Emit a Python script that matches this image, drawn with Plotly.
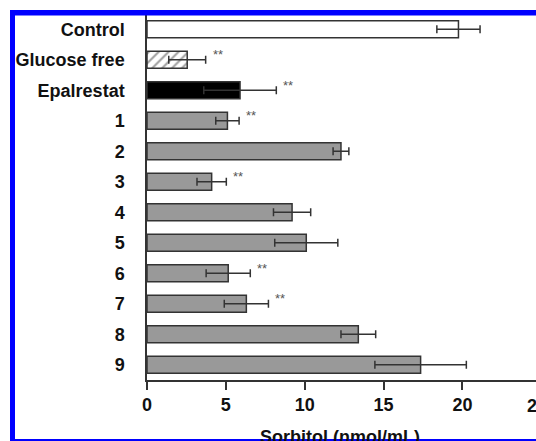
import plotly.graph_objects as go

categories = ["Control", "Glucose free", "Epalrestat", "1", "2", "3", "4", "5", "6", "7", "8", "9"]
values = [19.75, 2.55, 5.9, 5.1, 12.3, 4.1, 9.2, 10.1, 5.15, 6.3, 13.4, 17.35]
errors = [1.37, 1.17, 2.3, 0.74, 0.5, 0.93, 1.18, 2.0, 1.4, 1.4, 1.1, 2.9]
significance = ["", "**", "**", "**", "", "**", "", "", "**", "**", "", ""]
bar_colors = ["#ffffff", "#ffffff", "#000000"] + ["#999999"] * 9
bar_patterns = ["", "/", ""] + [""] * 9
x_ticks = [0, 5, 10, 15, 20]
x_title = "Sorbitol (nmol/mL)"

W, H = 536, 441
L, R, T, B = 147, 0, 14, 61
pw = W - L - R
ph = H - T - B
px_per_unit = 15.77
xmax = pw / px_per_unit

def px(p):
    return (p - L) / pw

def py(q):
    return (H - B - q) / ph

FONT = "Liberation Sans, Arial, sans-serif"

fig = go.Figure()
fig.add_trace(go.Bar(
    y=categories, x=values, orientation="h",
    marker=dict(color=bar_colors,
                line=dict(color="#333333", width=1.5),
                pattern=dict(shape=bar_patterns, fgcolor="#555555", size=7, solidity=0.3,
                             fillmode="overlay")),
    width=0.56,
    error_x=dict(type="data", array=errors, visible=True, color="#333333", thickness=1.5, width=4),
    showlegend=False,
))

annotations = []
for i, (v, e, s) in enumerate(zip(values, errors, significance)):
    if s:
        annotations.append(dict(x=v + e, y=i, xref="x", yref="y", text=s, showarrow=False,
                                xanchor="left", xshift=5, yshift=5,
                                font=dict(family=FONT, size=13, color="#555555")))

annotations.append(dict(x=px(537), y=py(406), xref="paper", yref="paper",
                        text="<b>25</b>", showarrow=False, xanchor="center", yanchor="middle",
                        font=dict(family=FONT, size=18, color="#111111")))
annotations.append(dict(x=px(340), y=py(437), xref="paper", yref="paper",
                        text="<b>" + x_title + "</b>", showarrow=False,
                        xanchor="center", yanchor="middle",
                        font=dict(family=FONT, size=18, color="#111111")))

blue = "#0000ff"
shapes = [
    dict(type="rect", xref="paper", yref="paper", x0=px(10), x1=px(15), y0=py(441), y1=py(10),
         fillcolor=blue, line=dict(width=0), layer="above"),
    dict(type="rect", xref="paper", yref="paper", x0=px(10), x1=px(536), y0=py(15.5), y1=py(10),
         fillcolor=blue, line=dict(width=0), layer="above"),
    dict(type="rect", xref="paper", yref="paper", x0=px(10), x1=px(536), y0=py(441), y1=py(439),
         fillcolor=blue, line=dict(width=0), layer="above"),
]

fig.update_layout(
    width=W, height=H,
    margin=dict(l=L, r=R, t=T, b=B, pad=0),
    paper_bgcolor="white", plot_bgcolor="white",
    font=dict(family=FONT, size=18, color="#111111"),
    xaxis=dict(range=[0, xmax], tickvals=x_ticks, ticktext=["<b>%d</b>" % t for t in x_ticks],
               showgrid=False, zeroline=False, showline=True, linecolor="#333333", linewidth=1.5,
               ticks="outside", ticklen=8, tickwidth=1.5, tickcolor="#333333",
               tickfont=dict(family=FONT, size=18, color="#111111")),
    yaxis=dict(type="category", categoryorder="array", categoryarray=categories,
               autorange="reversed",
               tickvals=categories, ticktext=["<b>%s</b>" % c for c in categories],
               showgrid=False, zeroline=False, showline=True, linecolor="#333333", linewidth=1.5,
               ticks="outside", ticklen=17, tickcolor="rgba(0,0,0,0)",
               tickfont=dict(family=FONT, size=18, color="#111111")),
    annotations=annotations,
    shapes=shapes,
    bargap=0.44,
)

fig.write_html("out.html", config={"displayModeBar": False},
               post_script="document.body.style.margin='0';document.body.style.overflow='hidden';")
